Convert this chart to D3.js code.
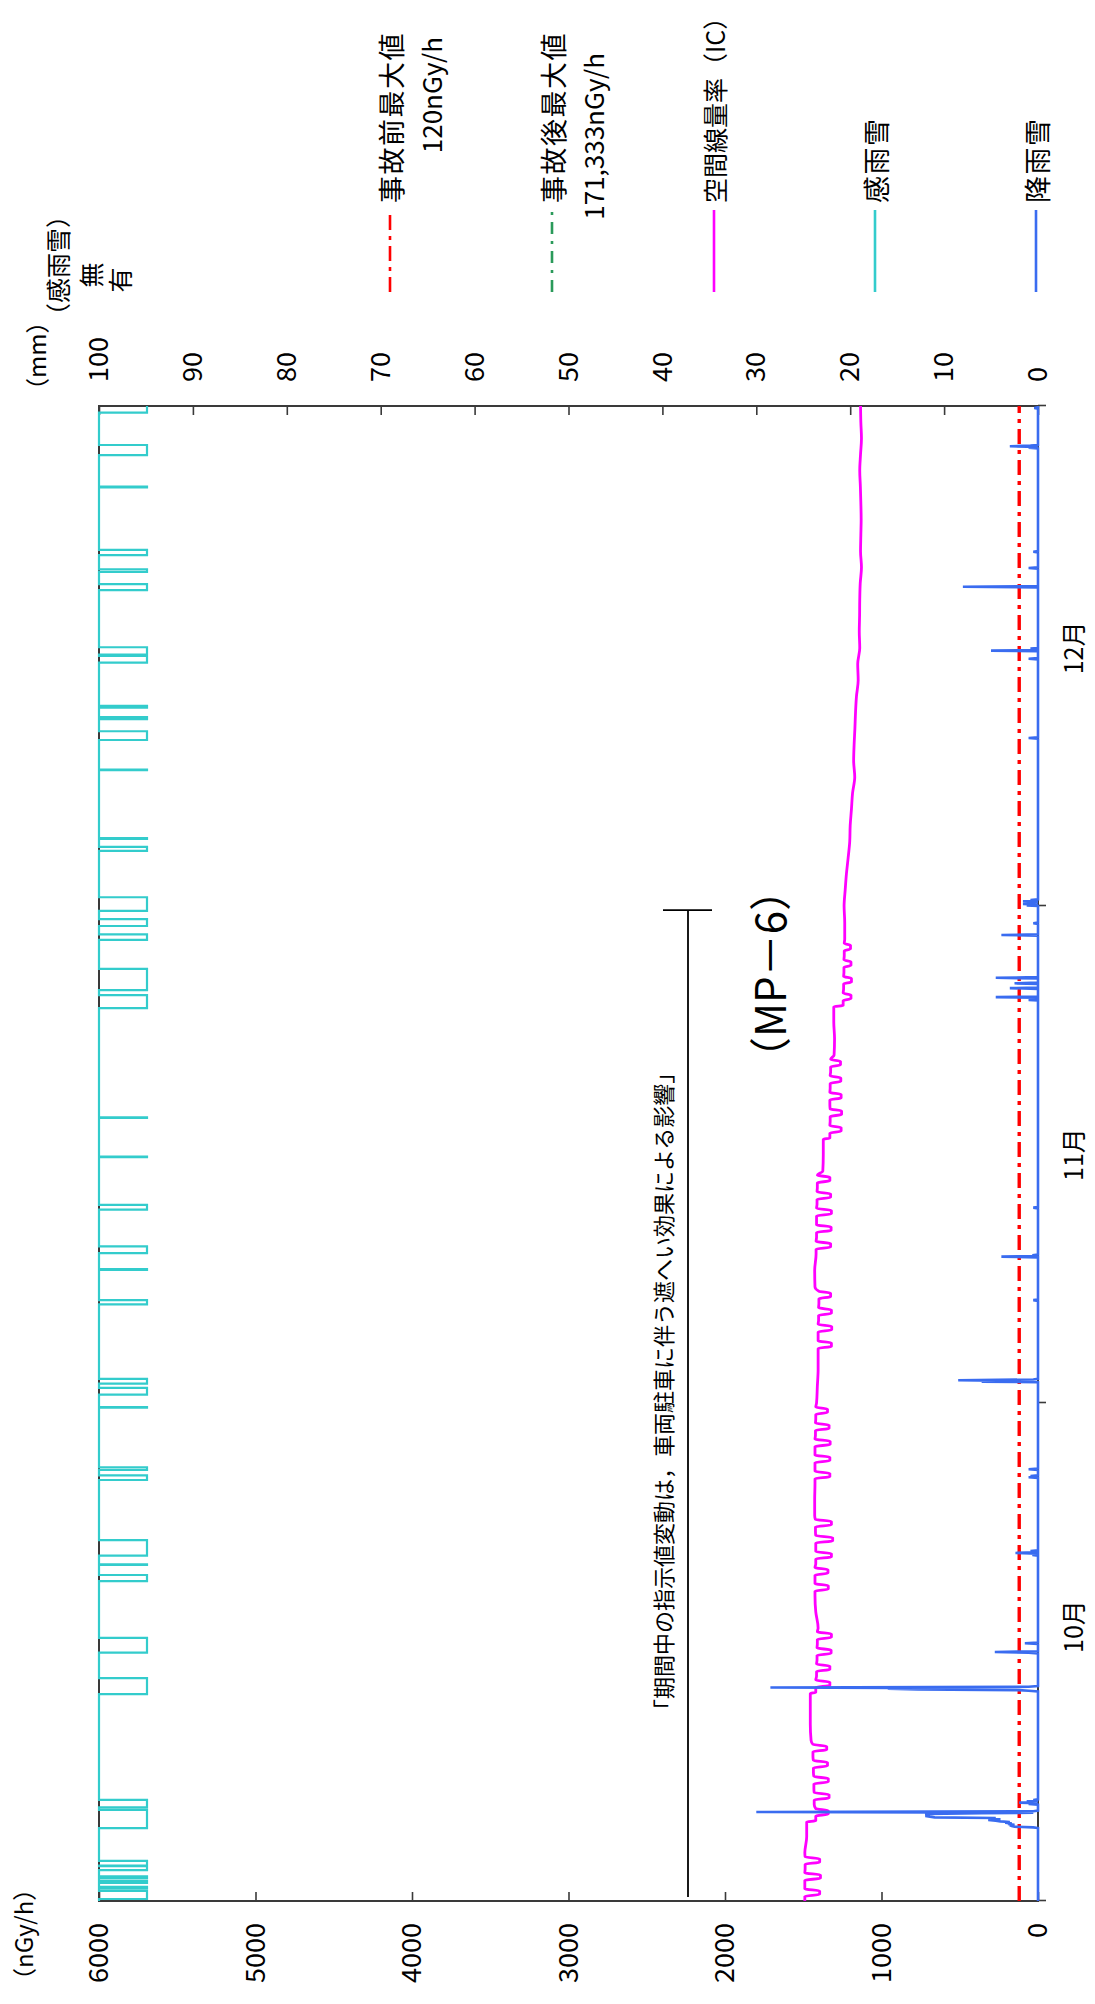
<!DOCTYPE html>
<html><head><meta charset="utf-8">
<script src="https://cdn.jsdelivr.net/npm/d3@7"></script>
<style>body{margin:0;background:#fff}svg{display:block}</style>
</head><body>
<svg id="c" width="1095" height="2004"></svg>
<script>
// ---------------- data ----------------
const months = ["10月","11月","12月"];
const monthBounds = ["2025-10-01T00","2025-11-01T00","2025-12-01T00","2026-01-01T00"];
const monthLabelAt = ["2025-10-18T02","2025-11-16T00","2025-12-17T00"];
const doseTicks = [0,1000,2000,3000,4000,5000,6000];
const mmTicks = [0,10,20,30,40,50,60,70,80,90,100];
const preAccidentMax = 120;

// daily night-time baseline of the dose rate (nGy/h), Oct 1 .. Dec 31
const doseBase = [
 1490,1490,1488,1490,1478,1420,1430,1432,1435,1438,1450,1455,1455,1420,1415,1412,1410,1405,1420,1425,1425,1420,1420,1422,1427,1427,1425,1425,1425,1422,1420,
 1415,1410,1405,1405,1405,1402,1400,1425,1427,1418,1415,1415,1412,1410,1375,1372,1330,1328,1330,1328,1325,1303,1300,1305,1245,1242,1240,1238,1235,1235,
 1239,1232,1224,1213,1203,1200,1192,1185,1171,1178,1175,1170,1166,1160,1149,1152,1139,1142,1140,1139,1136,1128,1134,1132,1130,1132,1135,1139,1134,1128,1132
];
// day-time value while vehicles are parked (null = no parking that day)
const doseDip = [
 1395,1390,1395,null,null,1340,1335,1340,1345,1350,null,null,null,1330,1330,1322,1320,null,null,1340,1342,1320,1312,1320,null,null,1330,1330,1328,1335,1345,
 null,null,null,1320,1318,1320,1325,null,null,1325,1322,1320,1325,1330,null,null,1258,1255,1258,1260,1262,null,null,null,1195,1192,1195,1198,null,null,
 null,null,null,null,null,null,null,null,null,null,null,null,null,null,null,null,null,null,null,null,null,null,null,null,null,null,null,null,null,null,null
];
const doseEnd = 1134;

// hourly precipitation (mm) - hours not listed are 0
const rainTimes = [
 "2025-10-05T14","2025-10-05T15","2025-10-05T16","2025-10-05T17","2025-10-05T18","2025-10-05T19","2025-10-05T20","2025-10-05T21","2025-10-05T22","2025-10-05T23",
 "2025-10-06T00","2025-10-06T01","2025-10-06T02","2025-10-06T03","2025-10-06T04","2025-10-06T05","2025-10-06T06","2025-10-06T07","2025-10-06T08","2025-10-06T09",
 "2025-10-06T10","2025-10-06T11","2025-10-06T12","2025-10-06T13","2025-10-06T14",
 "2025-10-07T01","2025-10-07T03","2025-10-07T05","2025-10-07T07",
 "2025-10-14T02","2025-10-14T03","2025-10-14T04","2025-10-14T05","2025-10-14T06","2025-10-14T07","2025-10-14T08",
 "2025-10-16T11","2025-10-16T12","2025-10-17T01",
 "2025-10-22T13","2025-10-22T16","2025-10-22T19",
 "2025-10-27T09","2025-10-27T11","2025-10-27T21",
 "2025-11-02T07","2025-11-02T08","2025-11-02T09","2025-11-02T10",
 "2025-11-07T05","2025-11-09T20","2025-11-09T22","2025-11-12T19",
 "2025-11-25T08","2025-11-25T12","2025-11-26T01","2025-11-26T08","2025-11-26T16",
 "2025-11-29T06","2025-11-29T23",
 "2025-12-01T01","2025-12-01T03","2025-12-01T05","2025-12-01T07","2025-12-01T09",
 "2025-12-11T10","2025-12-16T08","2025-12-16T20","2025-12-16T23",
 "2025-12-20T19","2025-12-21T23","2025-12-22T23",
 "2025-12-29T10","2025-12-29T12","2025-12-29T13","2025-12-31T21"
];
const rainMm = [
 0.5,2.5,2.8,3.0,2.5,3.2,2.8,3.5,3.0,4.0,
 4.5,5.3,4.0,5.0,4.5,11.0,11.5,12.0,11.5,12.0,
 11.8,6.0,0.5,30.0,0.5,
 1.0,2.0,1.2,0.5,
 1.0,2.0,12.8,16.0,9.0,28.5,1.0,
 1.0,4.6,1.4,
 0.6,2.4,0.8,
 1.0,0.8,1.0,
 6.0,2.0,8.5,0.5,
 0.5,3.9,0.6,0.5,
 1.0,4.5,3.0,2.5,4.5,
 3.9,0.5,
 1.2,1.6,1.0,1.6,0.8,
 1.0,1.0,5.0,0.8,
 8.0,1.0,0.5,
 1.0,3.0,0.8,0.4
];

// rain/snow sensor "有" periods (start inclusive, end exclusive)
const wetStart = [
 "2025-10-01T03","2025-10-01T19","2025-10-02T03","2025-10-02T10","2025-10-02T22","2025-10-03T05",
 "2025-10-05T13","2025-10-06T20","2025-10-13T21","2025-10-16T11","2025-10-20T22","2025-10-21T22",
 "2025-10-22T12","2025-10-27T05","2025-10-27T20","2025-10-31T17",
 "2025-11-01T12","2025-11-02T04","2025-11-06T23","2025-11-09T01","2025-11-10T01","2025-11-12T16",
 "2025-11-15T20","2025-11-18T05","2025-11-24T20","2025-11-25T22","2025-11-28T23","2025-11-29T19","2025-11-30T17",
 "2025-12-04T10","2025-12-05T04","2025-12-09T10","2025-12-11T07","2025-12-12T14","2025-12-13T07",
 "2025-12-16T02","2025-12-16T14","2025-12-20T14","2025-12-21T17","2025-12-22T18","2025-12-26T23",
 "2025-12-28T23","2025-12-31T14"
];
const wetEnd = [
 "2025-10-01T15","2025-10-01T21","2025-10-02T06","2025-10-02T13","2025-10-03T04","2025-10-03T12",
 "2025-10-06T16","2025-10-07T07","2025-10-14T21","2025-10-17T09","2025-10-21T07","2025-10-21T23",
 "2025-10-23T11","2025-10-27T12","2025-10-28T00","2025-10-31T18",
 "2025-11-01T22","2025-11-02T11","2025-11-07T05","2025-11-09T02","2025-11-10T11","2025-11-12T23",
 "2025-11-15T21","2025-11-18T06","2025-11-25T15","2025-11-27T05","2025-11-29T07","2025-11-30T05","2025-12-01T13",
 "2025-12-04T16","2025-12-05T05","2025-12-09T11","2025-12-11T20","2025-12-12T17","2025-12-13T10",
 "2025-12-16T12","2025-12-17T01","2025-12-20T23","2025-12-21T21","2025-12-23T02","2025-12-27T00",
 "2025-12-29T14","2026-01-01T00"
];

const legendItems = ["事故前最大値","事故後最大値","空間線量率（IC）","感雨雪","降雨雪"];
const legendSub = ["120nGy/h","171,333nGy/h","","",""];
const legendColors = ["#ff0000","#2a9a5a","#ff00ff","#33cccc","#3a6cf0"];
const titleText = "（MP－6）";
const noteText = "「期間中の指示値変動は，車両駐車に伴う遮へい効果による影響」";
const notePeriod = ["2025-10-01T06","2025-11-30T18"];

// ---------------- drawing ----------------
const parse = d3.utcParse("%Y-%m-%dT%H");
const FONT = "'Noto Sans CJK JP','Noto Sans',sans-serif";
const svg = d3.select("#c");
// chart is drawn in its own landscape frame (2004 x 1095) and turned 90° counter-clockwise
const g = svg.append("g").attr("transform","translate(0,2004) rotate(-90)")
  .style("font-family",FONT);

const L=103, R=1598, T=99, B=1038;
const x = d3.scaleUtc().domain(monthBounds.map(parse)).range([L,601,1098,R]);
const yDose = d3.scaleLinear().domain([0,6000]).range([B,T]);
const yMm = d3.scaleLinear().domain([0,100]).range([B,T]);
const yWet = d3.scaleLinear().domain([0,1]).range([T,T+48]);

// frame
g.append("rect").attr("x",L).attr("y",T).attr("width",R-L).attr("height",B-T)
  .attr("fill","none").attr("stroke","#3a3a3a").attr("stroke-width",2);

// left axis
const ax1 = g.append("g").attr("transform",`translate(${L},0)`)
  .call(d3.axisLeft(yDose).tickValues(doseTicks).tickFormat(d3.format("d"))
    .tickSizeInner(-9).tickSizeOuter(0).tickPadding(22));
// right axis
const ax2 = g.append("g").attr("transform",`translate(${R},0)`)
  .call(d3.axisRight(yMm).tickValues(mmTicks).tickFormat(d3.format("d"))
    .tickSizeInner(-9).tickSizeOuter(0).tickPadding(24));
// time axis
const ax3 = g.append("g").attr("transform",`translate(0,${B})`)
  .call(d3.axisBottom(x).tickValues(monthBounds.map(parse)).tickFormat("")
    .tickSizeInner(8).tickSizeOuter(0));
[ax1,ax2,ax3].forEach(a=>{
  a.select(".domain").remove();
  a.selectAll("line").attr("stroke","#3a3a3a").attr("stroke-width",1.6);
  a.selectAll("text").attr("font-size",27).attr("font-family",FONT).attr("fill","#000");
});

// month labels
g.selectAll("text.month").data(months).join("text").attr("class","month")
  .attr("x",(d,i)=>x(parse(monthLabelAt[i]))).attr("y",1072)
  .attr("text-anchor","middle").attr("dominant-baseline","central")
  .attr("font-size",25).text(d=>d);

// unit labels
g.append("text").attr("x",12).attr("y",22).attr("dominant-baseline","central")
  .attr("font-size",24).text("（nGy/h）");
g.append("text").attr("x",1602).attr("y",35).attr("dominant-baseline","central")
  .attr("font-size",24).text("（mm）");
g.append("text").attr("x",1676).attr("y",57).attr("dominant-baseline","central")
  .attr("font-size",25).text("（感雨雪）");
g.append("text").attr("x",1729).attr("y",90).attr("text-anchor","middle").attr("dominant-baseline","central")
  .attr("font-size",25).text("無");
g.append("text").attr("x",1724).attr("y",119).attr("text-anchor","middle").attr("dominant-baseline","central")
  .attr("font-size",25).text("有");

// ---- series ----
const t0 = parse(monthBounds[0]), tEnd = parse(monthBounds[3]);
const hours = d3.utcHour.range(t0, tEnd);

// rain sensor (step)
const wetIv = wetStart.map((s,i)=>[+parse(s), +parse(wetEnd[i])]);
const wetSeries = hours.map(h=>[h, wetIv.some(([a,b])=>+h>=a && +h<b)?1:0]);
wetSeries.push([tEnd, wetSeries[wetSeries.length-1][1]]);
g.append("path").datum(wetSeries)
  .attr("fill","none").attr("stroke","#33cccc").attr("stroke-width",2.2)
  .attr("d",d3.line().x(d=>x(d[0])).y(d=>yWet(d[1])).curve(d3.curveStepAfter));

// pre-accident max line
g.append("line").attr("x1",L).attr("x2",R)
  .attr("y1",yDose(preAccidentMax)).attr("y2",yDose(preAccidentMax))
  .attr("stroke","#ff0000").attr("stroke-width",3.4).attr("stroke-dasharray","15,6,4,6");

// dose rate
const dosePts = [];
doseBase.forEach((b,i)=>{
  const day = d3.utcDay.offset(t0,i);
  const hh = k=>d3.utcHour.offset(day,k);
  dosePts.push([hh(0),b]);
  if (doseDip[i]!=null){
    dosePts.push([hh(7),b],[hh(10),doseDip[i]],[hh(15),doseDip[i]],[hh(18),b]);
  } else {
    const nb = i+1<doseBase.length ? doseBase[i+1] : doseEnd;
    if (Math.abs(nb-b)>15) dosePts.push([hh(22),b]);
  }
});
dosePts.push([tEnd, doseEnd]);
g.append("path").datum(dosePts)
  .attr("fill","none").attr("stroke","#ff00ff").attr("stroke-width",2.8)
  .attr("stroke-linejoin","round")
  .attr("d",d3.line().x(d=>x(d[0])).y(d=>yDose(d[1])).curve(d3.curveMonotoneX));

// precipitation
const rainMap = new Map(rainTimes.map((t,i)=>[+parse(t), rainMm[i]]));
const rainSeries = hours.map(h=>[h, rainMap.get(+h)||0]);
rainSeries.push([tEnd,0]);
g.append("path").datum(rainSeries)
  .attr("fill","none").attr("stroke","#3a6cf0").attr("stroke-width",2.6)
  .attr("d",d3.line().x(d=>x(d[0])).y(d=>yMm(d[1])));

// annotation bracket
const nx0 = x(parse(notePeriod[0])), nx1 = x(parse(notePeriod[1]));
g.append("line").attr("x1",nx0).attr("x2",nx1).attr("y1",688).attr("y2",688)
  .attr("stroke","#000").attr("stroke-width",1.8);
g.append("line").attr("x1",nx1).attr("x2",nx1).attr("y1",663).attr("y2",712)
  .attr("stroke","#000").attr("stroke-width",1.8);
g.append("text").attr("x",283).attr("y",662).attr("dominant-baseline","central")
  .attr("font-size",22).text(noteText);

// title
g.append("text").attr("x",1030).attr("y",767).attr("text-anchor","middle")
  .attr("dominant-baseline","central").attr("font-size",42).text(titleText);

// legend
const ly = [390,552,714,875,1036];
const dashes = ["15,6,4,6","12,7,3,7",null,null,null];
legendItems.forEach((t,i)=>{
  const ln = g.append("line").attr("x1",1712).attr("x2",1794).attr("y1",ly[i]).attr("y2",ly[i])
    .attr("stroke",legendColors[i]).attr("stroke-width",2.6);
  if (dashes[i]) ln.attr("stroke-dasharray",dashes[i]);
  g.append("text").attr("x",1801).attr("y",ly[i]).attr("dominant-baseline","central")
    .attr("font-size",i===2?25:27).attr("letter-spacing",i===2?0:1.5).text(t);
  if (legendSub[i]) g.append("text").attr("x",i===0?1967:1951).attr("y",ly[i]+40)
    .attr("text-anchor","end").attr("dominant-baseline","central")
    .attr("font-size",26).text(legendSub[i]);
});
</script>
</body></html>
